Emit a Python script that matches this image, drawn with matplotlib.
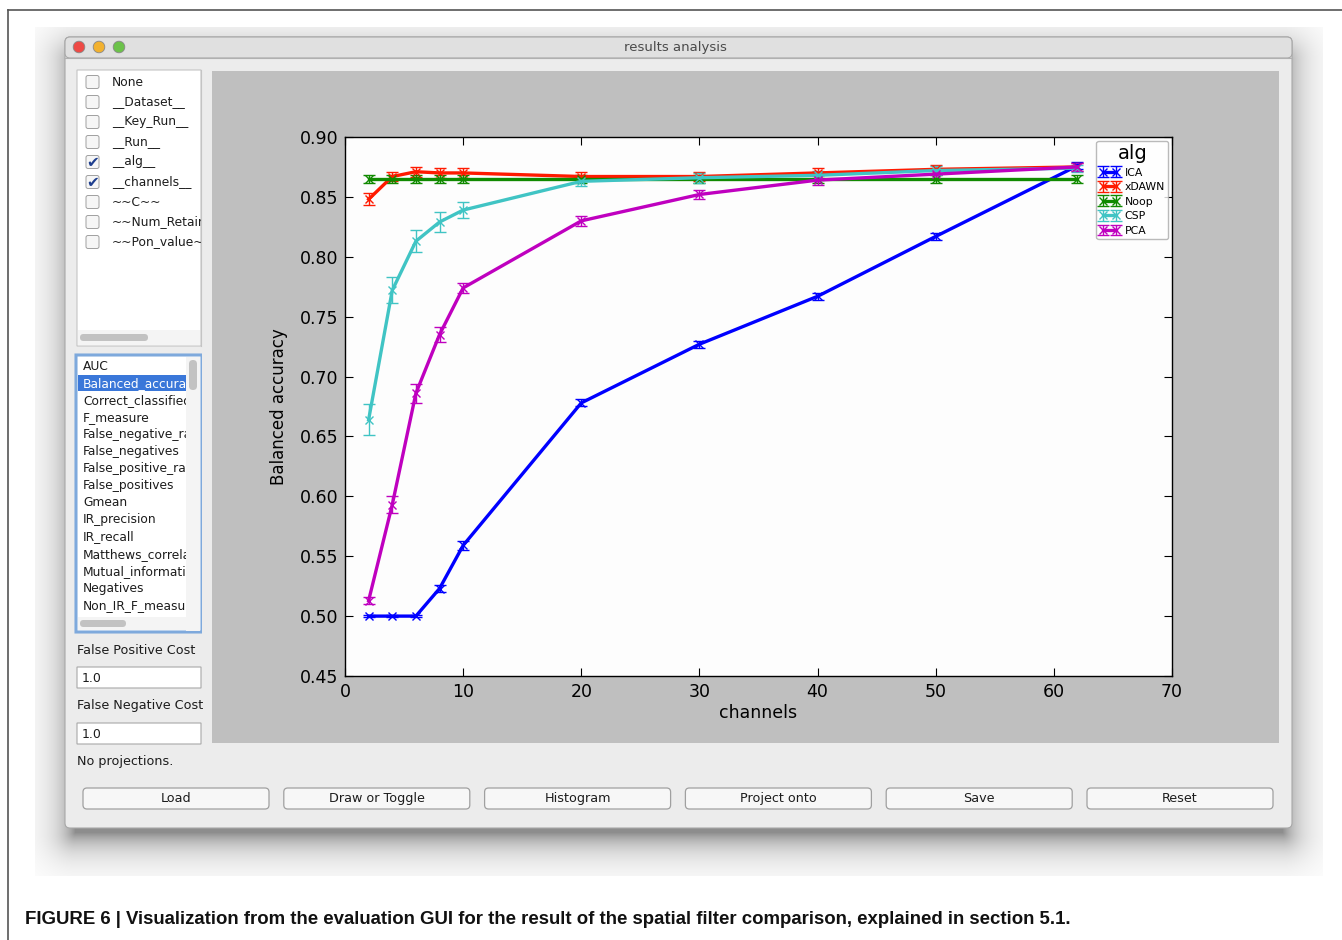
import numpy as np
import matplotlib
matplotlib.use("Agg")
import matplotlib.pyplot as plt
from matplotlib.patches import FancyBboxPatch, Rectangle, Circle

# ---- data ----
channels = [2, 4, 6, 8, 10, 20, 30, 40, 50, 62]
algs = ["ICA", "xDAWN", "Noop", "CSP", "PCA"]
ica = [0.500, 0.500, 0.500, 0.523, 0.559, 0.678, 0.727, 0.767, 0.817, 0.876]
xdawn = [0.848, 0.867, 0.871, 0.870, 0.870, 0.867, 0.867, 0.870, 0.873, 0.875]
noop = [0.865, 0.865, 0.865, 0.865, 0.865, 0.865, 0.865, 0.865, 0.865, 0.865]
csp = [0.664, 0.772, 0.813, 0.829, 0.839, 0.863, 0.866, 0.868, 0.872, 0.874]
pca = [0.513, 0.593, 0.686, 0.735, 0.774, 0.830, 0.852, 0.864, 0.869, 0.875]
ica_err = [0.001, 0.001, 0.001, 0.003, 0.004, 0.003, 0.003, 0.003, 0.003, 0.003]
xdawn_err = [0.005, 0.004, 0.004, 0.004, 0.004, 0.004, 0.004, 0.004, 0.004, 0.003]
noop_err = [0.003] * 10
csp_err = [0.013, 0.011, 0.009, 0.008, 0.007, 0.004, 0.004, 0.004, 0.004, 0.003]
pca_err = [0.003, 0.007, 0.008, 0.006, 0.004, 0.004, 0.004, 0.004, 0.004, 0.003]
colors = ["#0000ff", "#ff1a00", "#108a00", "#40c4c4", "#bf00bf"]

check_items = ["None", "__Dataset__", "__Key_Run__", "__Run__", "__alg__",
               "__channels__", "~~C~~", "~~Num_Retaine", "~~Pon_value~~"]
checked = ["__alg__", "__channels__"]
metric_items = ["AUC", "Balanced_accurac", "Correct_classified", "F_measure",
                "False_negative_ra", "False_negatives", "False_positive_rat",
                "False_positives", "Gmean", "IR_precision", "IR_recall",
                "Matthews_correla", "Mutual_informatic", "Negatives",
                "Non_IR_F_measur"]
selected_metric = "Balanced_accurac"
buttons = ["Load", "Draw or Toggle", "Histogram", "Project onto", "Save", "Reset"]
caption = ("FIGURE 6 | Visualization from the evaluation GUI for the result of "
           "the spatial filter comparison, explained in section 5.1.")

W, H = 1342, 940
fig = plt.figure(figsize=(W / 100, H / 100), dpi=100)
fig.patch.set_facecolor("white")
bg = fig.add_axes([0, 0, 1, 1])
bg.set_xlim(0, W)
bg.set_ylim(H, 0)
bg.axis("off")

GUI_FONT = ["DejaVu Sans"]
TXT = "#1c1c1c"


def box(x0, y0, x1, y1, fc, ec="none", lw=1, r=0, z=1):
    p = FancyBboxPatch((x0, y0), x1 - x0, y1 - y0,
                       boxstyle="round,pad=0,rounding_size=%g" % r,
                       fc=fc, ec=ec, lw=lw, zorder=z)
    bg.add_patch(p)
    return p


# outer page frame
bg.plot([8, W], [10, 10], color="#555555", lw=1.2, zorder=0)
bg.plot([8, 8], [10, H], color="#555555", lw=1.2, zorder=0)

# window drop shadow, mostly below the window, clipped to the screenshot area
yy, xx = np.mgrid[0:H, 0:W]
wx0, wy0, wx1, wy1 = 75, 60, 1282, 832
dx = np.maximum(np.maximum(wx0 - xx, xx - wx1), 0)
dy = np.maximum(np.maximum(wy0 - yy, yy - wy1), 0)
d = np.hypot(dx, dy)
alpha = 0.45 * np.exp(-d / 18.0)
alpha[(xx < 35) | (xx > 1322) | (yy < 27) | (yy > 875)] = 0
shadow = np.zeros((H, W, 4))
shadow[..., 3] = alpha
bg.imshow(shadow, extent=(0, W, H, 0), zorder=0.5, interpolation="bilinear")

# window body
box(65, 37, 1292, 828, "#ececec", ec="#a8a8a8", lw=0.8, r=5, z=1)
# title bar
box(65, 37, 1292, 58, "#e0e0e0", ec="#a8a8a8", lw=0.8, r=5, z=2)
bg.plot([65, 1292], [58, 58], color="#b0b0b0", lw=0.8, zorder=3)
bg.text(675, 48, "results analysis", ha="center", va="center", fontsize=9.5,
        color="#4a4a4a", family=GUI_FONT, zorder=4)
for cx, c in zip([79, 99, 119], ["#ee4a45", "#f2b12f", "#6cc24a"]):
    bg.add_patch(Circle((cx, 47), 5.8, fc=c, ec="#888888", lw=0.6, zorder=4))

# plot canvas background (drawn above the list text so overflow is hidden)
bg.add_patch(Rectangle((201.6, 65), 10.4, 700, fc="#ececec", ec="none",
                       zorder=5))
bg.add_patch(Rectangle((212, 71), 1279 - 212, 743 - 71, fc="#bfbfbf",
                       ec="none", zorder=5))

# checkbox list
box(77, 70, 201, 346, "white", ec="#c4c4c4", lw=0.8, z=2)
for i, name in enumerate(check_items):
    y = 82 + 20 * i
    box(86, y - 6.5, 99, y + 6.5, "#f6f6f6", ec="#a0a0a0", lw=0.7, r=2, z=3)
    if name in checked:
        bg.text(93, y, "\u2714", ha="center", va="center", fontsize=11,
                color="#1f3f8f", family=GUI_FONT, zorder=4)
    bg.text(112, y, name, ha="left", va="center", fontsize=8.8,
            color=TXT, family=GUI_FONT, zorder=4)
bg.plot([201, 201], [70, 346], color="#c4c4c4", lw=0.8, zorder=6)
box(78, 330, 200, 345, "#f4f4f4", ec="none", z=3)
box(80, 334, 148, 341, "#c2c2c2", r=3.5, z=4)

# metric list
box(76, 355, 202, 632, "white", ec="#7ea9dc", lw=2.2, z=2)
for i, name in enumerate(metric_items):
    y = 366 + 17.1 * i
    if name == selected_metric:
        bg.add_patch(Rectangle((78, y - 8.3), 108, 16.6,
                               fc="#3a77d9", ec="none", zorder=3))
        col = "white"
    else:
        col = TXT
    bg.text(83, y, name, ha="left", va="center", fontsize=8.8, color=col,
            family=GUI_FONT, zorder=4)
bg.add_patch(Rectangle((186, 357), 14, 274, fc="#f4f4f4", ec="none", zorder=5))
box(189, 360, 197, 390, "#c2c2c2", r=4, z=6)
box(78, 617, 186, 630, "#f4f4f4", ec="none", z=5)
box(80, 620, 126, 627, "#c2c2c2", r=3.5, z=6)

# cost fields
bg.text(77, 650, "False Positive Cost", ha="left", va="center", fontsize=9.2,
        color=TXT, family=GUI_FONT, zorder=4)
box(77, 667, 201, 688, "white", ec="#a8a8a8", lw=0.8, z=3)
bg.text(82, 678, "1.0", ha="left", va="center", fontsize=9, color=TXT,
        family=GUI_FONT, zorder=4)
bg.text(77, 706, "False Negative Cost", ha="left", va="center", fontsize=9.2,
        color=TXT, family=GUI_FONT, zorder=6)
box(77, 723, 201, 744, "white", ec="#a8a8a8", lw=0.8, z=3)
bg.text(82, 734, "1.0", ha="left", va="center", fontsize=9, color=TXT,
        family=GUI_FONT, zorder=4)
bg.text(77, 762, "No projections.", ha="left", va="center", fontsize=9.2,
        color=TXT, family=GUI_FONT, zorder=4)

# buttons
for i, label in enumerate(buttons):
    x0 = 83 + 200.8 * i
    box(x0, 788, x0 + 186, 809, "#f7f7f7", ec="#a0a0a0", lw=0.9, r=4, z=3)
    bg.text(x0 + 93, 798.5, label, ha="center", va="center", fontsize=9.2,
            color=TXT, family=GUI_FONT, zorder=4)

# caption
bg.text(25, 920, caption, ha="left", va="center", fontsize=13.4,
        fontweight="bold", color="#111111",
        family=["Liberation Sans Narrow", "Liberation Sans", "DejaVu Sans"])

# ---- the actual chart ----
ax = fig.add_axes([345 / W, (H - 676) / H, (1172 - 345) / W, (676 - 137) / H])
ax.set_facecolor("#fdfdfd")
series = [ica, xdawn, noop, csp, pca]
errs = [ica_err, xdawn_err, noop_err, csp_err, pca_err]
for name, vals, err, c in zip(algs, series, errs, colors):
    ax.errorbar(channels, vals, yerr=err, color=c, lw=2.4, marker="x", ms=6,
                mew=1.0, elinewidth=1.0, capsize=4, capthick=1.0, label=name)

ax.set_xlim(0, 70)
ax.set_ylim(0.45, 0.90)
ax.set_xticks(np.arange(0, 71, 10))
ax.set_yticks(np.arange(0.45, 0.901, 0.05))
ax.set_yticklabels(["%.2f" % v for v in np.arange(0.45, 0.901, 0.05)])
ax.tick_params(direction="in", top=True, right=True, length=6, width=0.8,
               labelsize=12.5, pad=5)
for s in ax.spines.values():
    s.set_linewidth(1.0)
ax.set_xlabel("channels", fontsize=12.5, labelpad=2)
ax.set_ylabel("Balanced accuracy", fontsize=12, labelpad=8)

leg = ax.legend(title="alg", loc="upper right", fontsize=7.8,
                title_fontsize=14, numpoints=2, handlelength=1.8,
                handletextpad=0.5, borderpad=0.3, labelspacing=0.42,
                fancybox=True, borderaxespad=0.35)
leg.get_frame().set_edgecolor("#aaaaaa")

fig.savefig("out.png", dpi=100)
